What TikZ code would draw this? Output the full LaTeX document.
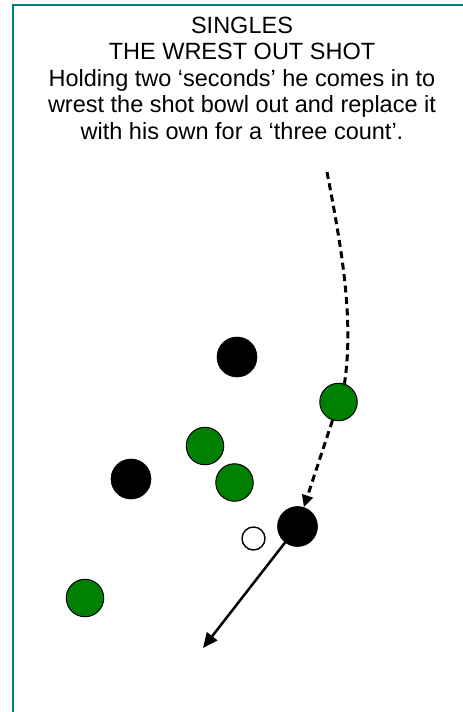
\documentclass[tikz,border=0pt]{standalone}
\usepackage{fontspec}
\setmainfont{Liberation Sans}
\usetikzlibrary{arrows.meta}
\definecolor{frameteal}{RGB}{0,128,128}
\definecolor{bowlgreen}{RGB}{0,128,0}
\begin{document}
\begin{tikzpicture}[x=1pt,y=-1pt,
  blackbowl/.style={circle,fill=black,draw=black,line width=0.6pt,minimum size=40pt,inner sep=0pt},
  greenbowl/.style={circle,fill=bowlgreen,draw=black,line width=1pt,minimum size=37.5pt,inner sep=0pt},
  jackbowl/.style={circle,fill=white,draw=black,line width=1.4pt,minimum size=23pt,inner sep=0pt},
  pathline/.style={line width=3pt,dash pattern=on 7pt off 4.5pt},
  shotline/.style={line width=2.5pt}]
\useasboundingbox (0,0) rectangle (463,712);
\draw[frameteal,line width=2.6pt] (13,712) -- (13,5) -- (463,5);
\node[anchor=north,align=center,inner sep=0pt,font=\fontsize{23.5}{26.5}\selectfont] (title) at (242,16.5)
  {SINGLES\\THE WREST OUT SHOT\\Holding two ‘seconds’ he comes in to\\wrest the shot bowl out and replace it\\with his own for a ‘three count’.};
\node[blackbowl] (b1) at (237,357) {};
\node[blackbowl] (b2) at (131,479) {};
\node[blackbowl] (bR) at (297.5,526.5) {};
\node[greenbowl] (g1) at (205,446) {};
\node[greenbowl] (g2) at (234.5,482.5) {};
\node[greenbowl] (g3) at (85,598) {};
\node[greenbowl] (gR) at (338.5,402) {};
\node[jackbowl] (jack) at (253.5,538.5) {};
\coordinate (start) at (327,172);
\coordinate (end) at (203,648);
\draw[pathline] (start) .. controls (342,250) and (354,320) .. (gR.72);
\draw[pathline,-{Triangle[length=12pt,width=11pt]}] (gR) -- (bR);
\draw[shotline,-{Triangle[length=15pt,width=13pt]}] (bR) -- (end);
\end{tikzpicture}
\end{document}
